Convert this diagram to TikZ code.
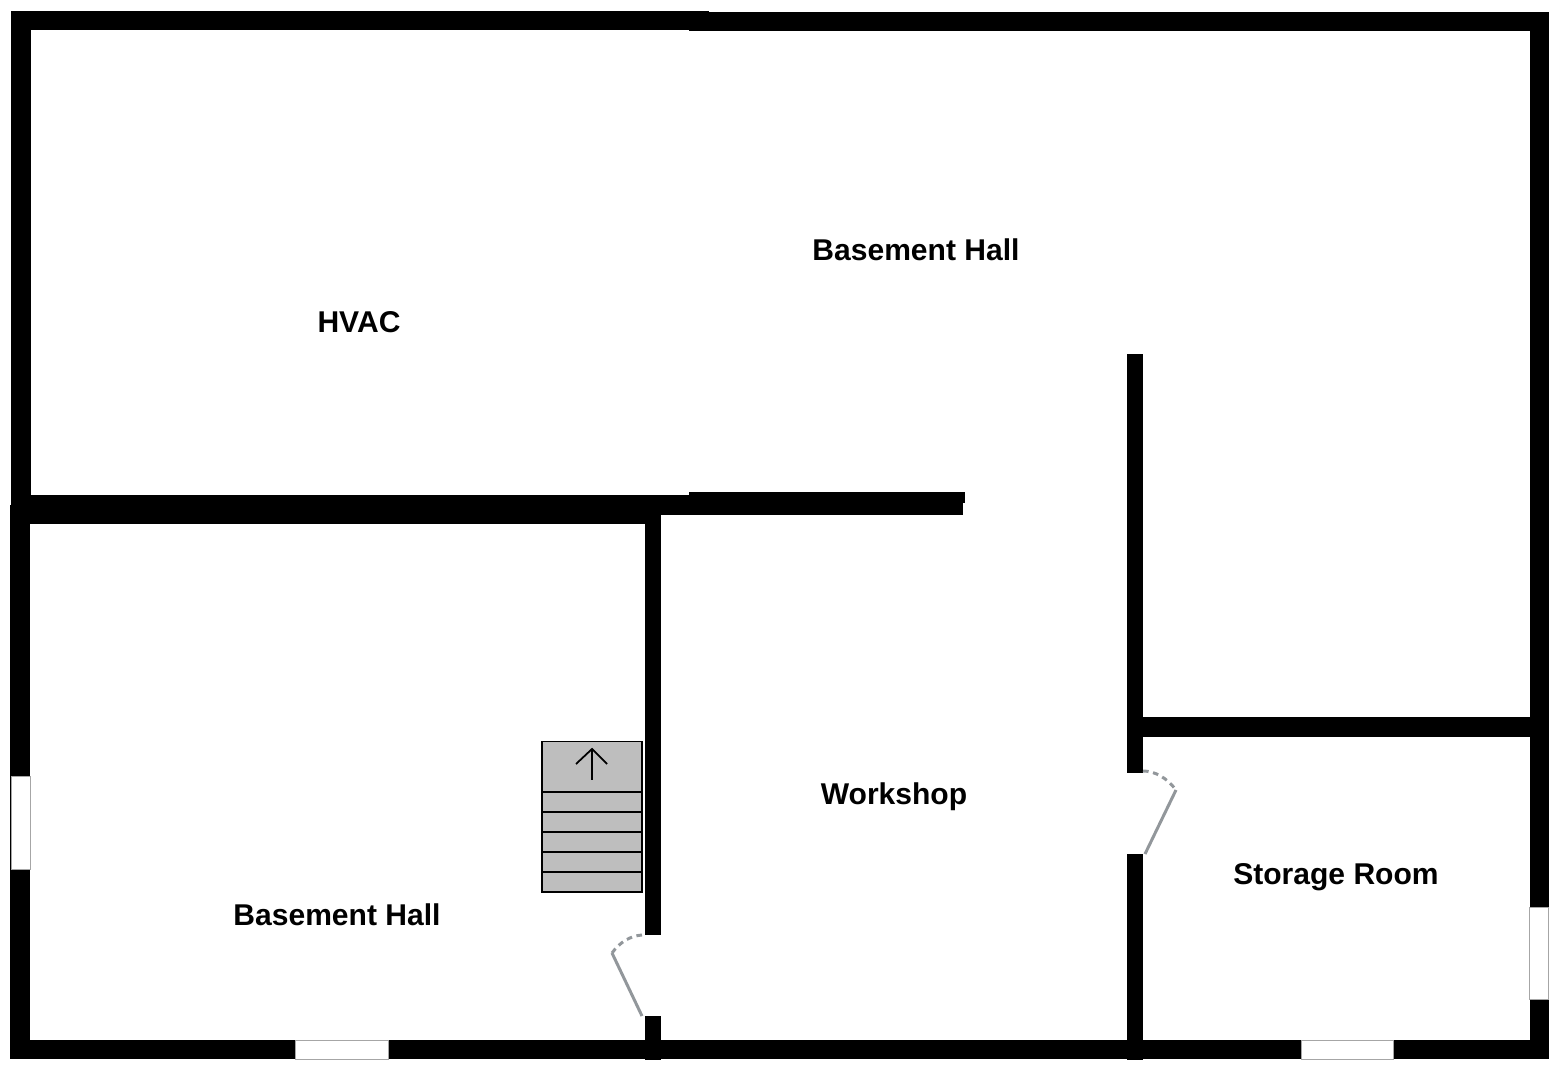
\documentclass[tikz,border=0pt]{standalone}
\usepackage{fontspec}
\setmainfont{Liberation Sans}
\usepackage{tikz}
\usepackage{xcolor}
\definecolor{doorgray}{HTML}{92979B}
\definecolor{stairgray}{HTML}{BEBEBE}

\begin{document}
\begin{tikzpicture}[x=0.02cm, y=-0.02cm, line width = 1pt,
    roomlabel/.style={font=\fontsize{17.1pt}{20pt}\selectfont\bfseries, inner sep=0pt},
    wallfill/.style={fill=black},
    windowbox/.style={fill=white, draw=gray!70, line width=0.5pt},
    doorleaf/.style={draw=doorgray, line width=1.7pt},
    doorswing/.style={draw=doorgray, line width=1.7pt, dash pattern=on 3.2pt off 2.6pt}]
\useasboundingbox (0,0) rectangle (1560,1070);
\fill[white] (0,0) rectangle (1560,1070);
% outer walls
\fill[wallfill] (11,11) rectangle (709,30);
\fill[wallfill] (689,12) rectangle (1549,31);
\fill[wallfill] (11,11) rectangle (31,505);
\fill[wallfill] (10,505) rectangle (30,1059);
\fill[wallfill] (1530,12) rectangle (1549,1059);
\fill[wallfill] (10,1040) rectangle (1549,1059);
% middle wall, in two rough pieces
\fill[wallfill] (11,495) rectangle (689,515);
\fill[wallfill] (10,505) rectangle (661,524);
\fill[wallfill] (689,492) rectangle (965,503);
\fill[wallfill] (661,503) rectangle (963,515);
% inner walls
\fill[wallfill] (645,515) rectangle (661,935);
\fill[wallfill] (645,1016) rectangle (661,1060);
\fill[wallfill] (1127,354) rectangle (1143,773);
\fill[wallfill] (1127,854) rectangle (1143,1060);
\fill[wallfill] (1143,717) rectangle (1530,737);
% windows
\filldraw[windowbox] (11,776) rectangle (30,869);
\filldraw[windowbox] (295,1040) rectangle (388,1059);
\filldraw[windowbox] (1301,1040) rectangle (1393,1059);
\filldraw[windowbox] (1529,907) rectangle (1548,999);
% doors
\draw[doorleaf] (642,1016) -- (612,953);
\draw[doorswing] (642,935) .. controls (630,936) and (620,942) .. (612,953);
\draw[doorleaf] (1145,854) -- (1176,790);
\draw[doorswing] (1143,771) .. controls (1155,771) and (1167,778) .. (1176,790);
% stairs
\filldraw[fill=stairgray, draw=black] (542,741.5) rectangle (642,892);
\foreach \y in {792,812,832,852,872}
    \draw (542,\y) -- (642,\y);
\draw (592,780) -- (592,749);
\draw (576,764) -- (592,749) -- (607,764);
% rooms
\node[roomlabel] (hvac) at (359,322) {HVAC};
\node[roomlabel] (hallupper) at (916,250) {Basement Hall};
\node[roomlabel] (halllower) at (337,915) {Basement Hall};
\node[roomlabel] (workshop) at (894,797) {Workshop};
\node[roomlabel] (storage) at (1336,877) {Storage Room};
\end{tikzpicture}
\end{document}
